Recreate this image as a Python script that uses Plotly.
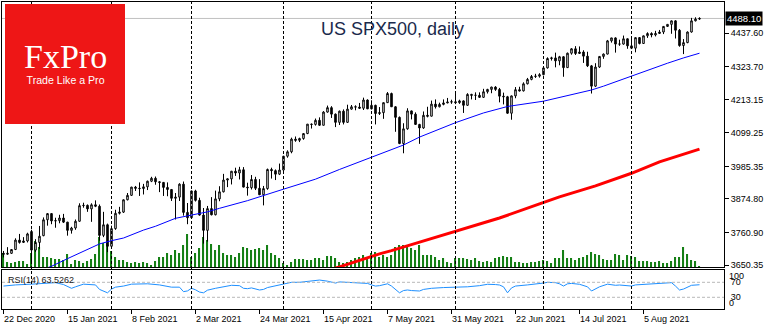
import pandas as pd
import plotly.graph_objects as go

# ---------------- data ----------------
_all_days = pd.bdate_range("2020-12-22", "2021-08-25")
dates = [d for d in _all_days if d not in (pd.Timestamp("2020-12-25"), pd.Timestamp("2021-01-01"))]

opens = [3690, 3687, 3690, 3703, 3735, 3727, 3732, 3764, 3701, 3727,
         3750, 3804, 3825, 3800, 3801, 3810, 3796, 3768, 3776, 3799,
         3852, 3853, 3841, 3855, 3850, 3751, 3787, 3714, 3774, 3826,
         3830, 3872, 3887, 3915, 3911, 3910, 3916, 3935, 3945, 3933,
         3931, 3914, 3907, 3877, 3881, 3925, 3829, 3811, 3902, 3870,
         3820, 3768, 3842, 3821, 3875, 3899, 3939, 3943, 3969, 3963,
         3974, 3915, 3913, 3941, 3911, 3889, 3910, 3975, 3971, 3959,
         3973, 4020, 4035, 4078, 4074, 4080, 4097, 4129, 4128, 4142,
         4125, 4170, 4185, 4163, 4135, 4173, 4135, 4180, 4188, 4187,
         4183, 4211, 4181, 4193, 4165, 4168, 4202, 4233, 4188, 4152,
         4063, 4113, 4174, 4163, 4128, 4116, 4159, 4156, 4197, 4188,
         4196, 4201, 4204, 4205, 4202, 4208, 4193, 4230, 4227, 4227,
         4220, 4239, 4247, 4255, 4247, 4224, 4222, 4166, 4225, 4246,
         4242, 4266, 4281, 4291, 4292, 4297, 4320, 4352, 4354, 4344,
         4358, 4321, 4370, 4385, 4369, 4374, 4360, 4327, 4258, 4323,
         4359, 4367, 4412, 4422, 4401, 4401, 4419, 4395, 4387, 4423,
         4403, 4429, 4437, 4432, 4437, 4442, 4461, 4468, 4480, 4448,
         4396, 4406, 4442, 4480, 4486]
highs = [3698, 3711, 3704, 3741, 3756, 3745, 3760, 3770, 3738, 3783,
         3812, 3827, 3826, 3811, 3821, 3824, 3797, 3780, 3805, 3860,
         3862, 3856, 3860, 3870, 3856, 3831, 3791, 3784, 3838, 3848,
         3873, 3895, 3916, 3919, 3931, 3926, 3937, 3950, 3951, 3935,
         3932, 3931, 3908, 3895, 3928, 3934, 3861, 3903, 3906, 3879,
         3844, 3851, 3881, 3903, 3918, 3960, 3944, 3970, 3981, 3984,
         3983, 3930, 3956, 3950, 3942, 3919, 3978, 3981, 3975, 3995,
         4021, 4040, 4083, 4087, 4083, 4098, 4129, 4131, 4148, 4152,
         4173, 4192, 4190, 4165, 4175, 4179, 4195, 4194, 4193, 4201,
         4219, 4213, 4210, 4195, 4187, 4202, 4238, 4236, 4190, 4155,
         4132, 4183, 4175, 4169, 4130, 4172, 4188, 4209, 4213, 4202,
         4213, 4218, 4212, 4234, 4212, 4210, 4234, 4232, 4237, 4237,
         4249, 4249, 4256, 4258, 4252, 4236, 4225, 4226, 4255, 4256,
         4271, 4286, 4296, 4300, 4302, 4321, 4356, 4358, 4372, 4361,
         4360, 4372, 4387, 4394, 4393, 4380, 4375, 4330, 4336, 4359,
         4369, 4415, 4422, 4424, 4416, 4430, 4420, 4422, 4423, 4425,
         4430, 4441, 4441, 4446, 4449, 4461, 4468, 4481, 4482, 4452,
         4418, 4444, 4490, 4492, 4492]
lows = [3676, 3685, 3688, 3701, 3723, 3726, 3727, 3663, 3695, 3705,
        3748, 3784, 3789, 3777, 3792, 3793, 3750, 3757, 3770, 3797,
        3845, 3831, 3797, 3847, 3733, 3745, 3694, 3706, 3770, 3822,
        3827, 3870, 3885, 3902, 3885, 3890, 3905, 3932, 3923, 3898,
        3885, 3884, 3868, 3805, 3868, 3818, 3789, 3810, 3866, 3818,
        3723, 3730, 3819, 3819, 3867, 3897, 3915, 3924, 3953, 3941,
        3914, 3886, 3907, 3905, 3888, 3853, 3906, 3944, 3939, 3956,
        3970, 4015, 4030, 4069, 4068, 4076, 4095, 4114, 4124, 4123,
        4125, 4168, 4150, 4119, 4126, 4128, 4133, 4178, 4176, 4181,
        4177, 4180, 4179, 4128, 4160, 4147, 4201, 4188, 4103, 4061,
        4030, 4110, 4145, 4127, 4062, 4113, 4152, 4155, 4182, 4186,
        4193, 4200, 4198, 4197, 4198, 4167, 4191, 4213, 4211, 4218,
        4218, 4233, 4234, 4242, 4203, 4196, 4164, 4144, 4217, 4240,
        4240, 4264, 4278, 4286, 4287, 4295, 4318, 4345, 4322, 4329,
        4290, 4320, 4365, 4364, 4368, 4337, 4323, 4233, 4255, 4320,
        4351, 4366, 4406, 4372, 4395, 4399, 4385, 4384, 4373, 4400,
        4402, 4422, 4424, 4427, 4436, 4435, 4460, 4436, 4420, 4392,
        4367, 4404, 4440, 4478, 4483]
closes = [3687, 3690, 3703, 3735, 3727, 3732, 3756, 3701, 3727, 3748,
          3804, 3825, 3800, 3801, 3810, 3796, 3768, 3776, 3799, 3852,
          3853, 3841, 3855, 3850, 3751, 3787, 3714, 3774, 3826, 3830,
          3872, 3887, 3915, 3911, 3910, 3916, 3935, 3945, 3933, 3931,
          3914, 3907, 3877, 3881, 3925, 3829, 3811, 3902, 3870, 3820,
          3768, 3842, 3821, 3875, 3899, 3939, 3943, 3969, 3963, 3974,
          3915, 3913, 3941, 3911, 3889, 3910, 3975, 3971, 3959, 3973,
          4020, 4035, 4078, 4074, 4080, 4097, 4129, 4128, 4142, 4125,
          4170, 4185, 4163, 4135, 4173, 4135, 4180, 4188, 4187, 4183,
          4211, 4181, 4193, 4165, 4168, 4202, 4233, 4188, 4152, 4063,
          4113, 4174, 4163, 4128, 4116, 4159, 4156, 4197, 4188, 4196,
          4201, 4204, 4205, 4202, 4208, 4193, 4230, 4227, 4227, 4220,
          4239, 4247, 4255, 4247, 4224, 4222, 4166, 4225, 4246, 4242,
          4266, 4281, 4291, 4292, 4297, 4320, 4352, 4354, 4344, 4358,
          4321, 4370, 4385, 4369, 4374, 4360, 4327, 4258, 4323, 4359,
          4367, 4412, 4422, 4401, 4401, 4419, 4395, 4387, 4423, 4403,
          4429, 4437, 4432, 4437, 4442, 4461, 4468, 4480, 4448, 4396,
          4406, 4442, 4480, 4486, 4488.10]
volumes = [14, 5, 4, 5, 6, 6, 3, 14, 26, 20,
           10, 10, 9, 8, 8, 7, 13, 3, 7, 6,
           4, 6, 8, 13, 30, 24, 24, 16, 10, 7,
           7, 5, 4, 5, 4, 5, 4, 2, 6, 10,
           10, 14, 12, 17, 14, 22, 33, 10, 14, 19,
           30, 27, 23, 17, 22, 14, 12, 12, 10, 14,
           20, 19, 17, 18, 19, 17, 22, 14, 12, 9,
           4, 2, 5, 8, 8, 8, 7, 7, 9, 9,
           7, 11, 11, 9, 5, 4, 5, 7, 9, 10,
           12, 10, 14, 15, 10, 12, 10, 12, 20, 22,
           22, 20, 19, 17, 22, 12, 12, 12, 10, 7,
           9, 5, 4, 9, 9, 9, 8, 7, 9, 6,
           5, 6, 5, 9, 10, 11, 10, 10, 5, 5,
           4, 4, 5, 5, 6, 7, 6, 4, 9, 9,
           17, 9, 9, 7, 9, 10, 12, 15, 13, 12,
           8, 7, 7, 13, 12, 7, 12, 11, 10, 6,
           6, 6, 5, 5, 6, 4, 4, 6, 10, 10,
           20, 13, 7, 6, 1]

ma50_idx = [10, 12, 16, 20, 24, 27, 30, 35, 38, 43, 46, 51, 54, 61, 70, 78, 84, 91,
            100, 104, 113, 120, 126, 135, 139, 144, 147, 150, 157, 166, 170, 174]
ma50_val = [3636, 3646, 3672, 3697, 3722, 3733, 3742, 3769, 3782, 3809, 3817, 3831, 3843,
            3869, 3908, 3942, 3975, 4011, 4058, 4085, 4134, 4167, 4189, 4207, 4220, 4236,
            4245, 4258, 4293, 4336, 4354, 4370]
ma200_idx = [82, 84, 94, 97, 103, 114, 124, 134, 139, 148, 157, 164, 174]
ma200_val = [3636, 3644, 3688, 3699, 3724, 3769, 3810, 3858, 3882, 3919, 3962, 4001, 4044]

rsi_idx = [0, 3, 7, 10, 13, 15, 16, 17, 18, 20, 23, 24, 26, 27, 28, 30, 32, 36, 39, 42,
           44, 45, 46, 47, 48, 49, 50, 51, 53, 55, 57, 59, 60, 61, 62, 64, 65, 66, 67, 69,
           70, 72, 74, 76, 78, 79, 81, 82, 83, 84, 86, 88, 90, 91, 92, 93, 94, 96, 97, 98,
           99, 100, 101, 102, 104, 105, 107, 110, 113, 116, 119, 121, 123, 124, 125, 126, 127, 128, 131, 133,
           135, 136, 138, 139, 140, 141, 142, 144, 146, 147, 148, 149, 151, 153, 154, 156, 157, 158, 161, 164,
           166, 167, 168, 169, 170, 171, 172, 174]
rsi_val = [60, 63, 65, 67, 69, 64, 58, 54, 58, 65, 63, 51, 42, 52, 57, 60, 65, 66, 63, 57,
           57, 45, 47, 54, 50, 44, 42, 49, 54, 58, 62, 61, 54, 53, 55, 49.5, 51, 56, 58, 62,
           65, 70, 70, 72, 74, 76, 73, 71, 68, 71, 70, 70, 69, 67, 63, 60, 61, 66, 60, 52,
           42, 48, 49.5, 48, 46.8, 51, 54, 56, 56.6, 58, 61, 64.7, 64, 62.8, 58, 42, 55, 60, 63, 64.7,
           68, 70, 69, 66, 60, 66, 67, 64.7, 58, 46.8, 52, 58, 65, 62, 62.8, 61, 60, 63, 65, 67,
           70, 69, 60, 49.5, 52, 58, 62, 63.5]

price_ticks = [4437.60, 4323.70, 4213.15, 4099.25, 3985.35, 3874.80, 3760.90, 3650.35]
last_price = 4488.10
rsi_levels = [70, 30]
date_labels = ["22 Dec 2020", "15 Jan 2021", "8 Feb 2021", "2 Mar 2021", "24 Mar 2021",
               "15 Apr 2021", "7 May 2021", "31 May 2021", "22 Jun 2021", "14 Jul 2021",
               "5 Aug 2021"]
title_text = "US SPX500, daily"
rsi_text = "RSI(14) 63.5262"
logo_name = "FxPro"
logo_slogan = "Trade Like a Pro"

# ---------------- layout helpers ----------------
W, H = 770, 330
ML, MR, MT, MB = 2, 46, 2, 21
plot_h = H - MT - MB  # 307


def py(pix):  # pixel y (from top) -> paper fraction
    return (H - MB - pix) / plot_h


def px(pix):  # pixel x -> paper fraction
    return (pix - ML) / (W - ML - MR)


xs = list(range(len(dates)))
x0 = -0.375
xr = [x0, x0 + (W - ML - MR) / 4.0]

label_of = {f"{d.day} {d.strftime('%b %Y')}": i for i, d in enumerate(dates)}
label_idx = [label_of[t] for t in date_labels]
sep_idx = [i for i in range(1, len(dates)) if dates[i].month != dates[i - 1].month]

FONT = "Liberation Sans"
fig = go.Figure()

fig.add_trace(go.Bar(x=xs, y=volumes, xaxis="x", yaxis="y", width=0.28,
                     marker=dict(color="#157f15", line=dict(width=0)), hoverinfo="skip"))
fig.add_trace(go.Candlestick(
    x=xs, open=opens, high=highs, low=lows, close=closes, xaxis="x", yaxis="y3",
    increasing=dict(line=dict(color="black", width=1), fillcolor="white"),
    decreasing=dict(line=dict(color="black", width=1), fillcolor="black"),
    whiskerwidth=0, hoverinfo="skip"))
fig.add_trace(go.Scatter(x=ma50_idx, y=ma50_val, mode="lines", xaxis="x", yaxis="y3",
                         line=dict(color="#0000ff", width=1), hoverinfo="skip"))
fig.add_trace(go.Scatter(x=ma200_idx, y=ma200_val, mode="lines", xaxis="x", yaxis="y3",
                         line=dict(color="#ff0000", width=3), hoverinfo="skip"))
fig.add_trace(go.Scatter(x=rsi_idx, y=rsi_val, mode="lines", xaxis="x2", yaxis="y2",
                         line=dict(color="#1e90ff", width=1), hoverinfo="skip"))

main_bottom = py(267)
rsi_top = py(270)

shapes = []
shapes.append(dict(type="line", xref="paper", x0=0, x1=1, yref="y3", y0=last_price, y1=last_price,
                   line=dict(color="#c0c0c0", width=1), layer="below"))
for lv in rsi_levels:
    shapes.append(dict(type="line", xref="paper", x0=0, x1=1, yref="y2", y0=lv, y1=lv,
                       line=dict(color="#b8b8b8", width=1, dash="3px,2px")))
for i in sep_idx:
    shapes.append(dict(type="line", xref="x", x0=i, x1=i, yref="paper", y0=0, y1=1,
                       line=dict(color="black", width=1, dash="3px,2px")))
shapes.append(dict(type="rect", xref="paper", yref="paper", x0=px(5), x1=px(125),
                   y0=py(124), y1=py(4), fillcolor="#ee1616", line=dict(width=0)))

logo_text = (f"<span style='font-family:Liberation Serif;font-size:34px'>{logo_name}</span><br>"
             f"<span style='font-size:10.6px'>{logo_slogan}</span>")

annotations = [
    dict(text=title_text, xref="paper", yref="paper", x=px(392.5), y=py(28.5),
         showarrow=False, font=dict(family=FONT, size=18, color="#1a2a4c"),
         xanchor="center", yanchor="middle"),
    dict(text=logo_text, xref="paper", yref="paper", x=px(65), y=py(62),
         showarrow=False, font=dict(family=FONT, size=12.3, color="white"),
         xanchor="center", yanchor="middle", align="center"),
    dict(text=rsi_text, xref="paper", yref="paper", x=px(6), y=py(279.5),
         showarrow=False, font=dict(family=FONT, size=9, color="#202020"),
         xanchor="left", yanchor="middle"),
    dict(text=f"{last_price:.2f}", xref="paper", yref="y3", x=1, y=last_price, xshift=1,
         showarrow=False, font=dict(family=FONT, size=9.5, color="white"),
         bgcolor="black", borderpad=1, xanchor="left", yanchor="middle"),
    dict(text="100", xref="paper", yref="paper", x=1, xshift=3, y=py(275.7),
         showarrow=False, font=dict(family=FONT, size=9, color="black"),
         xanchor="left", yanchor="middle"),
    dict(text="0", xref="paper", yref="paper", x=1, xshift=3, y=py(302.7),
         showarrow=False, font=dict(family=FONT, size=9, color="black"),
         xanchor="left", yanchor="middle"),
]
for t, i in zip(date_labels, label_idx):
    annotations.append(dict(text=t, xref="x2", yref="paper", x=i, y=py(318.5), xshift=-2,
                            showarrow=False, font=dict(family=FONT, size=9, color="black"),
                            xanchor="left", yanchor="middle"))

axis_common = dict(showgrid=False, zeroline=False, linecolor="black", linewidth=1,
                   fixedrange=True)
fig.update_layout(
    width=W, height=H, margin=dict(l=ML, r=MR, t=MT, b=MB, pad=0),
    paper_bgcolor="white", plot_bgcolor="white", showlegend=False,
    font=dict(family=FONT, size=9, color="black"),
    boxgap=0.45,
    xaxis=dict(domain=[0, 1], range=xr, anchor="y", showline=True, mirror=True,
               showticklabels=False, ticks="", rangeslider=dict(visible=False), **axis_common),
    yaxis=dict(domain=[main_bottom, 1], range=[0, 265], anchor="x", showline=True, mirror=True,
               showticklabels=False, ticks="", **axis_common),
    yaxis3=dict(overlaying="y", side="right", anchor="x", range=[3643.55, 4544.0],
                tickvals=price_ticks, ticktext=[f"{v:.2f}" for v in price_ticks],
                ticks="outside", ticklen=4, tickcolor="black", showline=False,
                tickfont=dict(family=FONT, size=9, color="black"),
                showgrid=False, zeroline=False, fixedrange=True),
    xaxis2=dict(domain=[0, 1], range=xr, anchor="y2", showline=True, mirror=True,
                tickvals=label_idx, ticks="outside", ticklen=4, tickcolor="black",
                showticklabels=False, rangeslider=dict(visible=False), **axis_common),
    yaxis2=dict(domain=[0, rsi_top], range=[-1.2, 102.8], anchor="x2", side="right",
                showline=True, mirror=True, tickvals=rsi_levels,
                ticktext=[str(v) for v in rsi_levels], ticks="outside", ticklen=4,
                tickcolor="rgba(0,0,0,0)", tickfont=dict(family=FONT, size=9, color="black"),
                **axis_common),
    shapes=shapes, annotations=annotations,
)

fig.write_html("out.html")
